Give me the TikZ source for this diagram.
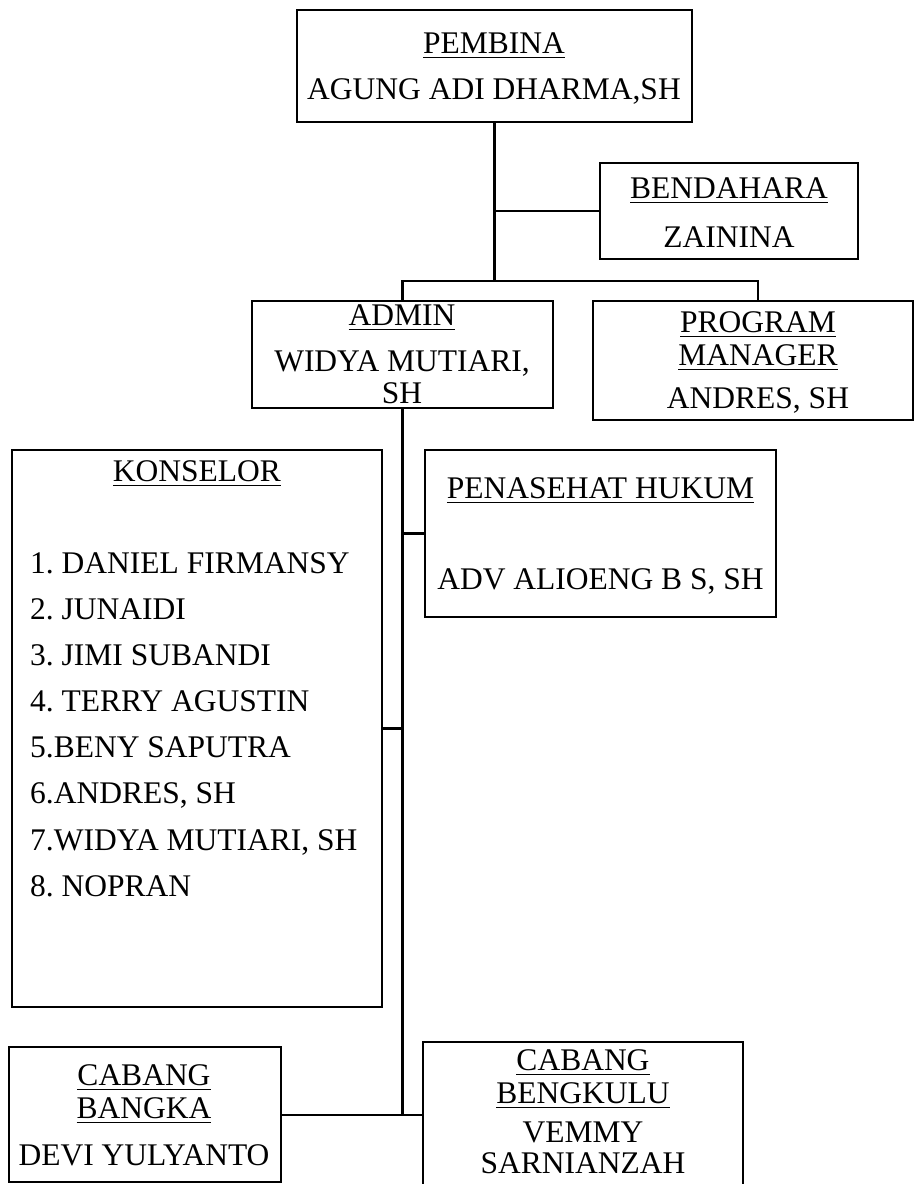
\documentclass[tikz,border=0pt]{standalone}
\usepackage{fontspec}
\setmainfont{Liberation Serif}
\frenchspacing
\newcommand{\myul}[1]{\setbox0\hbox{#1}\rlap{\rule[-5pt]{\wd0}{1.5pt}}\box0}
\begin{document}
\begin{tikzpicture}[x=1pt,y=-1pt,
  box/.style={draw, line width=2.9pt, rectangle, inner sep=0pt, fill=none},
  txt/.style={inner sep=0pt, font=\fontsize{31.5}{31.5}\selectfont\frenchspacing},
  conn/.style={draw, line width=2.9pt}]
\useasboundingbox (0,0) rectangle (915,1184);

% boxes
\node[box, minimum width=395, minimum height=112] (pembina) at (494.5,66) {};
\node[box, minimum width=258, minimum height=96] (bendahara) at (729,211) {};
\node[box, minimum width=301, minimum height=107] (admin) at (402.5,354.5) {};
\node[box, minimum width=320, minimum height=119] (pm) at (753,360.5) {};
\node[box, minimum width=370, minimum height=557] (konselor) at (197,728.5) {};
\node[box, minimum width=351, minimum height=167] (penasehat) at (600.5,533.5) {};
\node[box, minimum width=272, minimum height=135] (bangka) at (145,1114.5) {};
\node[box, minimum width=320, minimum height=156] (bengkulu) at (583,1120) {};

% texts
\node[txt, anchor=base] (t-pembina) at (494,53) {\myul{PEMBINA}};
\node[txt, anchor=base] (t-agung) at (494,99) {AGUNG ADI DHARMA,SH};
\node[txt, anchor=base] (t-bendahara) at (729,198) {\myul{BENDAHARA}};
\node[txt, anchor=base] (t-zainina) at (729,247) {ZAININA};
\node[txt, anchor=base] (t-admin) at (402,325) {\myul{ADMIN}};
\node[txt, anchor=base] (t-widya) at (402,371) {WIDYA MUTIARI,};
\node[txt, anchor=base] (t-sh) at (402,403) {SH};
\node[txt, anchor=base] (t-program) at (758,332) {\myul{PROGRAM}};
\node[txt, anchor=base] (t-manager) at (758,365) {\myul{MANAGER}};
\node[txt, anchor=base] (t-andres) at (758,408) {ANDRES, SH};
\node[txt, anchor=base] (t-konselor) at (197,481) {\myul{KONSELOR}};
\node[txt, anchor=base west] (k1) at (30,573) {1. DANIEL FIRMANSY};
\node[txt, anchor=base west] (k2) at (30,619) {2. JUNAIDI};
\node[txt, anchor=base west] (k3) at (30,665) {3. JIMI SUBANDI};
\node[txt, anchor=base west] (k4) at (30,711) {4. TERRY AGUSTIN};
\node[txt, anchor=base west] (k5) at (30,757) {5.BENY SAPUTRA};
\node[txt, anchor=base west] (k6) at (30,803) {6.ANDRES, SH};
\node[txt, anchor=base west] (k7) at (30,850) {7.WIDYA MUTIARI, SH};
\node[txt, anchor=base west] (k8) at (30,896) {8. NOPRAN};
\node[txt, anchor=base] (t-penasehat) at (600.5,498) {\myul{PENASEHAT HUKUM}};
\node[txt, anchor=base] (t-adv) at (600.5,589) {ADV ALIOENG B S, SH};
\node[txt, anchor=base] (t-cabang1) at (144,1085) {\myul{CABANG}};
\node[txt, anchor=base] (t-bangka) at (144,1118) {\myul{BANGKA}};
\node[txt, anchor=base] (t-devi) at (144,1165) {DEVI YULYANTO};
\node[txt, anchor=base] (t-cabang2) at (583,1070) {\myul{CABANG}};
\node[txt, anchor=base] (t-bengkulu) at (583,1103) {\myul{BENGKULU}};
\node[txt, anchor=base] (t-vemmy) at (583,1142) {VEMMY};
\node[txt, anchor=base] (t-sarni) at (583,1173) {SARNIANZAH};

% junctions
\coordinate (jb) at (494.5,211);
\coordinate (barM) at (494.5,281);
\coordinate (barL) at (402.5,281);
\coordinate (barR) at (758,281);
\coordinate (jbot) at (402.5,1115);

% connectors
\draw[conn] (pembina.south) -- (barM);
\draw[conn] (jb) -- (bendahara.west);
\draw[conn] (admin.north) -- (barL) -- (barR) -- (pm.north -| barR);
\draw[conn] (admin.south) -- (jbot);
\draw[conn] (penasehat.west -| admin.south) -- (penasehat.west);
\draw[conn] (konselor.east) -- (konselor.east -| admin.south);
\draw[conn] (bangka.east |- jbot) -- (jbot);
\draw[conn] (jbot) -- (bengkulu.west |- jbot);
\end{tikzpicture}
\end{document}
